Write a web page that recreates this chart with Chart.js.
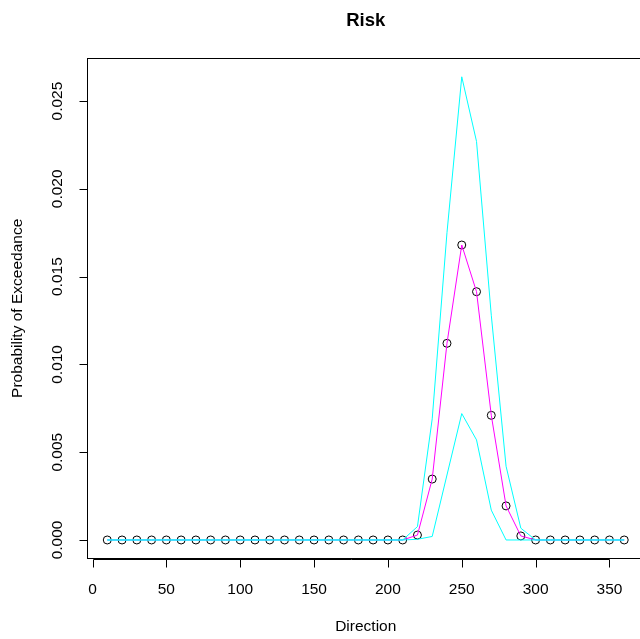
<!DOCTYPE html>
<html>
<head>
<meta charset="utf-8">
<script src="https://cdn.jsdelivr.net/npm/chart.js@4/dist/chart.umd.min.js"></script>
<style>
html,body{margin:0;padding:0;background:#fff;overflow:hidden;width:640px;height:639px;}
#wrap{position:absolute;left:0;top:0;width:660px;height:639px;}
</style>
</head>
<body>
<div id="wrap"><canvas id="c" width="660" height="639"></canvas></div>
<script>
const directions = [10,20,30,40,50,60,70,80,90,100,110,120,130,140,150,160,170,180,190,200,210,220,230,240,250,260,270,280,290,300,310,320,330,340,350,360];
const risk = [0,0,0,0,0,0,0,0,0,0,0,0,0,0,0,0,0,0,0,0,0,0.00028,0.00347,0.0112,0.0168,0.01414,0.0071,0.00194,0.00023,0,0,0,0,0,0,0];
const upper = [0,0,0,0,0,0,0,0,0,0,0,0,0,0,0,0,0,0,0,0,0,0.00076,0.0069,0.0175,0.02638,0.0227,0.0128,0.0042,0.00067,0,0,0,0,0,0,0];
const lower = [0,0,0,0,0,0,0,0,0,0,0,0,0,0,0,0,0,0,0,0,0,0.00004,0.0002,0.0037,0.0072,0.0057,0.0017,0,0,0,0,0,0,0,0,0];
const xTicks = [0,50,100,150,200,250,300,350];
const yTicks = [0,0.005,0.010,0.015,0.020,0.025];
const yTickLabels = ["0.000","0.005","0.010","0.015","0.020","0.025"];
const titleText = "Risk";
const xTitle = "Direction";
const yTitle = "Probability of Exceedance";

const pts = arr => arr.map((v,i)=>({x:directions[i], y:v}));
const FONT = '"Liberation Sans", Arial, sans-serif';

const rAxes = {
  id:'rAxes',
  afterDraw(chart){
    const ctx = chart.ctx, a = chart.chartArea;
    const xs = chart.scales.x, ys = chart.scales.y;
    ctx.save();
    ctx.strokeStyle = '#000'; ctx.lineWidth = 1;
    ctx.strokeRect(Math.round(a.left)+0.5, Math.round(a.top)+0.5, Math.round(a.right-a.left), Math.round(a.bottom-a.top));
    ctx.beginPath();
    const x0 = Math.round(xs.getPixelForValue(xTicks[0]))+0.5;
    const x1 = Math.round(xs.getPixelForValue(xTicks[xTicks.length-1]))+0.5;
    const yb = Math.round(a.bottom)+0.5;
    ctx.moveTo(x0, yb); ctx.lineTo(x1, yb);
    xTicks.forEach(t=>{const px=Math.round(xs.getPixelForValue(t))+0.5; ctx.moveTo(px,yb); ctx.lineTo(px,yb+8);});
    const y0 = Math.round(ys.getPixelForValue(yTicks[0]))+0.5;
    const y1 = Math.round(ys.getPixelForValue(yTicks[yTicks.length-1]))+0.5;
    const xl = Math.round(a.left)+0.5;
    ctx.moveTo(xl, y0); ctx.lineTo(xl, y1);
    yTicks.forEach(t=>{const py=Math.round(ys.getPixelForValue(t))+0.5; ctx.moveTo(xl,py); ctx.lineTo(xl-8,py);});
    ctx.stroke();
    ctx.fillStyle = '#000';
    ctx.font = '15.5px ' + FONT;
    ctx.textAlign = 'center'; ctx.textBaseline = 'middle';
    xTicks.forEach(t=>ctx.fillText(String(t), xs.getPixelForValue(t), 590));
    yTicks.forEach((t,i)=>{
      ctx.save(); ctx.translate(58, ys.getPixelForValue(t)); ctx.rotate(-Math.PI/2);
      ctx.fillText(yTickLabels[i], 0, 0); ctx.restore();
    });
    const cx = (a.left + a.right)/2;
    ctx.fillText(xTitle, cx, 627);
    ctx.save(); ctx.translate(18, (a.top+a.bottom)/2); ctx.rotate(-Math.PI/2);
    ctx.fillText(yTitle, 0, 0); ctx.restore();
    ctx.font = 'bold 18.5px ' + FONT;
    ctx.fillText(titleText, cx, 21);
    ctx.restore();
  }
};

new Chart(document.getElementById('c'), {
  type:'scatter',
  data:{datasets:[
    {label:'upper', data:pts(upper), showLine:true, borderColor:'#00FFFF', borderWidth:1, pointRadius:0, fill:false, tension:0, order:0},
    {label:'lower', data:pts(lower), showLine:true, borderColor:'#00FFFF', borderWidth:1, pointRadius:0, fill:false, tension:0, order:0},
    {label:'risk line', data:pts(risk), showLine:true, borderColor:'#FF00FF', borderWidth:1, pointRadius:0, fill:false, tension:0, order:1},
    {label:'risk', data:pts(risk), showLine:false, pointStyle:'circle', pointRadius:4, pointBorderWidth:1, pointBorderColor:'#000', pointBackgroundColor:'rgba(0,0,0,0)', order:2}
  ]},
  options:{
    responsive:false, animation:false, devicePixelRatio:1,
    layout:{padding:{left:86.6, top:58.2, right:660-644.9, bottom:639-558.5}},
    scales:{
      x:{type:'linear', display:false, min:-4, max:374},
      y:{type:'linear', display:false, min:-0.001055, max:0.02744}
    },
    plugins:{legend:{display:false}, tooltip:{enabled:false}, title:{display:false}},
    elements:{line:{borderCapStyle:'butt'}}
  },
  plugins:[rAxes]
});
</script>
</body>
</html>
